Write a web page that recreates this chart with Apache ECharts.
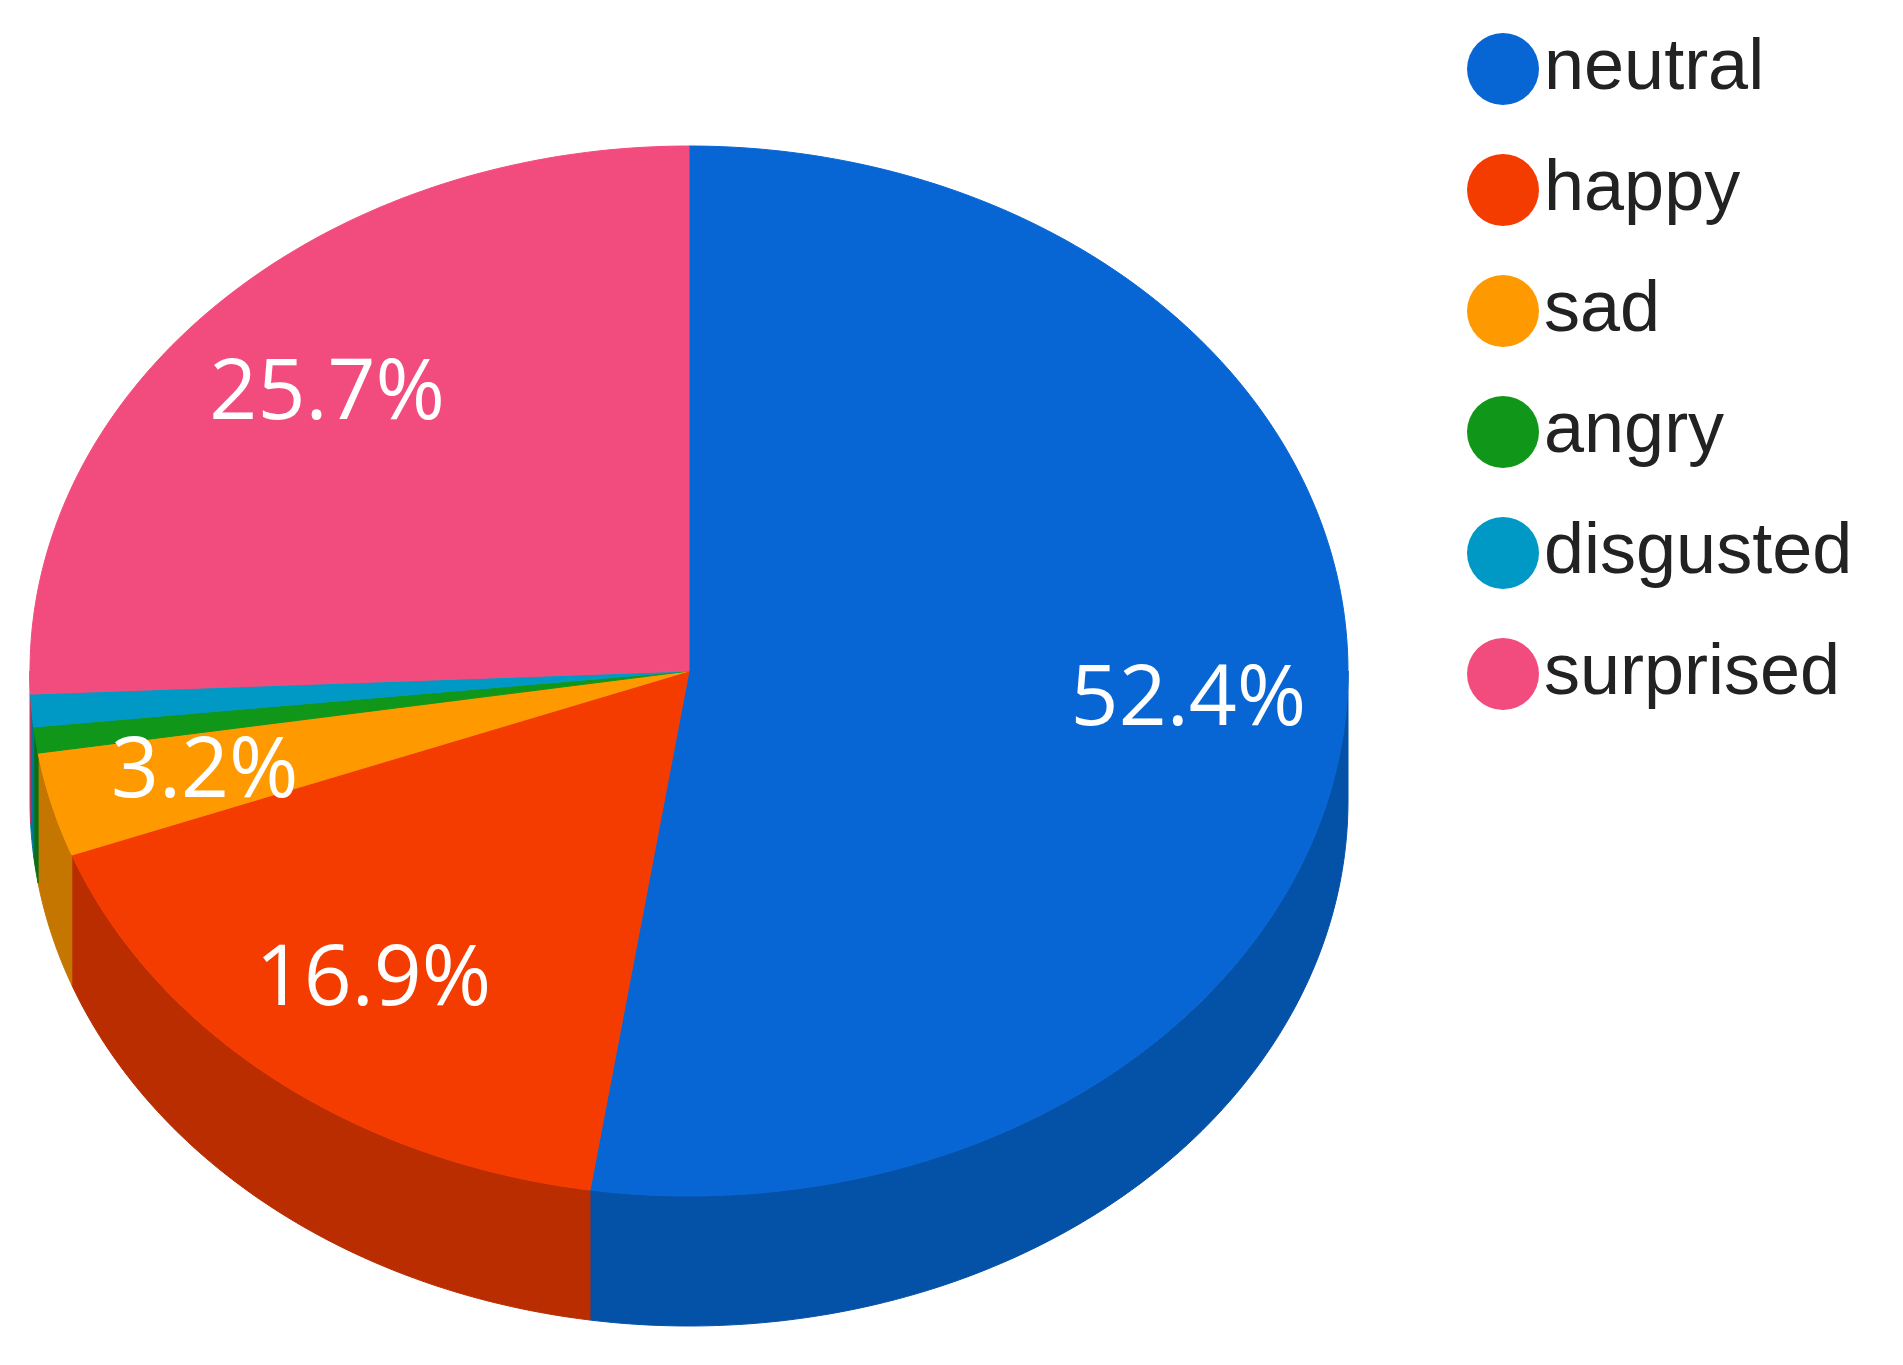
<!DOCTYPE html>
<html>
  <head>
    <meta charset="UTF-8">
    <script src="https://cdn.jsdelivr.net/npm/echarts@6/dist/echarts.min.js"></script>
    <title>Emotions</title>
  </head>
  <body style="margin:0;background:#fff;">
    <div id="main" style="width:1903px;height:1365px;"></div>
    <script type="text/javascript">
      var categories = ['neutral', 'happy', 'sad', 'angry', 'disgusted', 'surprised'];
      var values = [52.4, 16.9, 3.2, 0.8, 1.0, 25.7];
      var topColors = ['#0866d4', '#f53c00', '#ff9900', '#109618', '#0099c6', '#f24c7e'];
      var sideColors = ['#0451a8', '#b92d00', '#c47600', '#0c7012', '#00779a', '#b83a60'];

      // ellipse geometry of the tilted pie
      var cx = 689, cy = 671, rx = 659, ry = 525, depth = 130;
      var total = values.reduce(function (a, b) { return a + b; }, 0);

      function startAngle(i) {
        var s = 0;
        for (var k = 0; k < i; k++) s += values[k];
        return s / total * 360;
      }
      function pt(deg, dy) {
        var r = deg * Math.PI / 180;
        return [cx + rx * Math.sin(r), cy - ry * Math.cos(r) + (dy || 0)];
      }
      function arc(a, b, dy) {
        var pts = [];
        var n = Math.max(2, Math.ceil(b - a));
        for (var j = 0; j <= n; j++) pts.push(pt(a + (b - a) * j / n, dy));
        return pts;
      }

      var myChart = echarts.init(document.getElementById('main'));

      var option = {
        animation: false,
        legend: {
          orient: 'vertical',
          left: 1462,
          top: 28,
          icon: 'circle',
          itemWidth: 72,
          itemHeight: 72,
          itemGap: 49,
          textStyle: { fontFamily: 'Liberation Sans', fontSize: 72, color: '#222' },
          data: categories
        },
        series: [
          {
            // invisible pie just to feed the legend
            type: 'pie',
            radius: [0, 1],
            center: [-100, -100],
            silent: true,
            label: { show: false },
            labelLine: { show: false },
            data: categories.map(function (c, i) {
              return { name: c, value: values[i], itemStyle: { color: topColors[i] } };
            })
          },
          {
            type: 'custom',
            coordinateSystem: 'none',
            z: 1,
            silent: true,
            data: values,
            renderItem: function (params, api) {
              var i = params.dataIndex;
              var a = Math.max(startAngle(i), 90);
              var b = Math.min(startAngle(i) + values[i] / total * 360, 270);
              if (b <= a) return null;
              var pts = arc(a, b, 0).concat(arc(a, b, depth).reverse());
              return {
                type: 'polygon',
                shape: { points: pts },
                style: { fill: sideColors[i], stroke: sideColors[i], lineWidth: 1 }
              };
            }
          },
          {
            type: 'custom',
            coordinateSystem: 'none',
            z: 2,
            silent: true,
            data: values,
            renderItem: function (params, api) {
              var i = params.dataIndex;
              var a = startAngle(i);
              var b = a + values[i] / total * 360;
              var pts = [[cx, cy]].concat(arc(a, b, 0));
              var children = [{
                type: 'polygon',
                shape: { points: pts },
                style: { fill: topColors[i], stroke: topColors[i], lineWidth: 1 }
              }];
              if (values[i] >= 2) {
                var mid = (a + b) / 2 * Math.PI / 180;
                var f = 0.76;
                children.push({
                  type: 'text',
                  z2: 10,
                  style: {
                    x: cx + rx * f * Math.sin(mid),
                    y: cy - ry * f * Math.cos(mid),
                    text: values[i].toFixed(1) + '%',
                    fill: '#fff',
                    font: '84px "Open Sans"',
                    align: 'center',
                    verticalAlign: 'middle'
                  }
                });
              }
              return { type: 'group', children: children };
            }
          }
        ]
      };

      myChart.setOption(option);
    </script>
  </body>
</html>
